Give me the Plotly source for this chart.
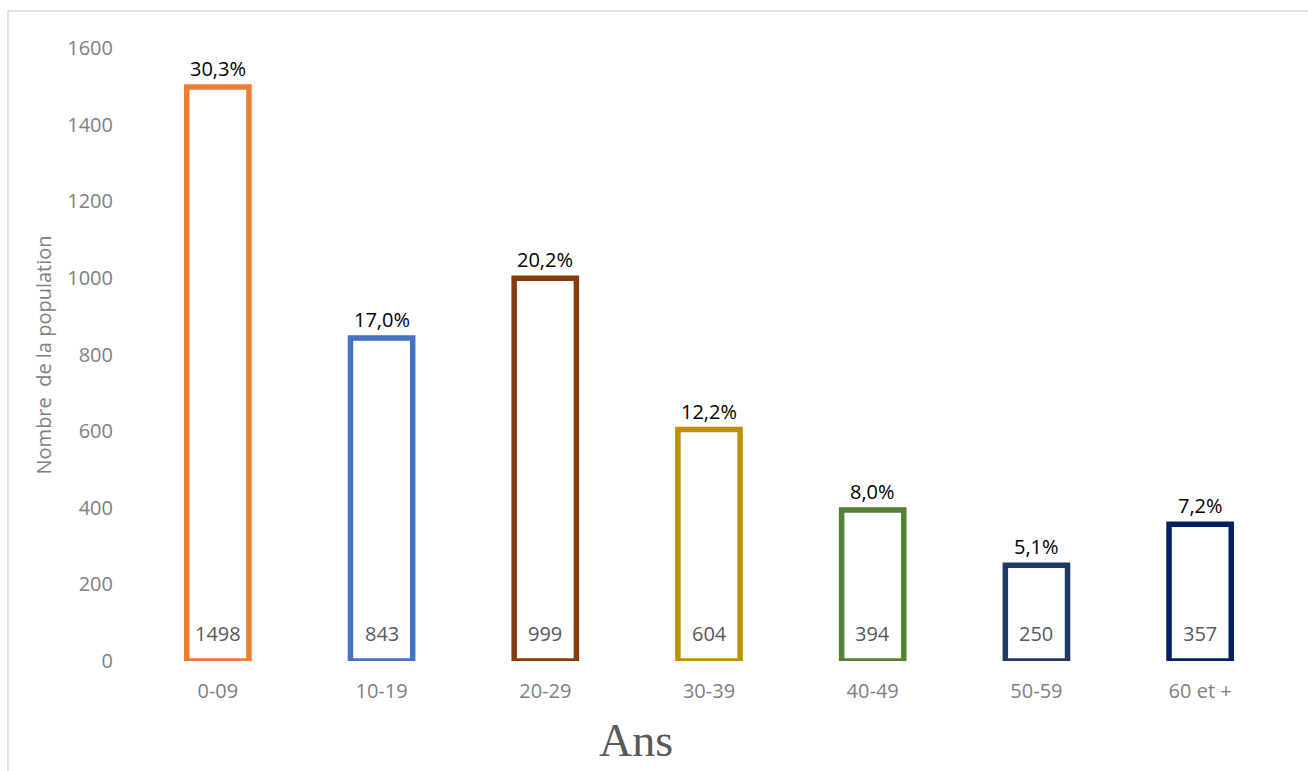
import plotly.graph_objects as go

# Population by age group
age_groups = ["0-09", "10-19", "20-29", "30-39", "40-49", "50-59", "60 et +"]
population = [1498, 843, 999, 604, 394, 250, 357]
shares_pct = [30.3, 17.0, 20.2, 12.2, 8.0, 5.1, 7.2]
outline_colors = ["#ED7D31", "#4472C4", "#843C0C", "#BF9000", "#548235", "#203864", "#002060"]
y_ticks = [0, 200, 400, 600, 800, 1000, 1200, 1400, 1600]

base_family = "Open Sans, Lato, sans-serif"
tick_font = dict(family=base_family, size=20, color="#808080")

fig = go.Figure()
fig.add_trace(go.Bar(
    x=age_groups,
    y=population,
    marker=dict(color="white", line=dict(color=outline_colors, width=5.5)),
    hoverinfo="x+y",
    showlegend=False,
))

annotations = []
for cat, val, pct in zip(age_groups, population, shares_pct):
    # share of the total above each bar
    annotations.append(dict(
        x=cat, y=val, xref="x", yref="y",
        text=f"{pct:.1f}%".replace(".", ","),
        showarrow=False, yanchor="bottom", yshift=3,
        font=dict(family=base_family, size=20, color="#000000"),
    ))
    # head count at the foot of each bar
    annotations.append(dict(
        x=cat, y=0, xref="x", yref="y",
        text=str(val),
        showarrow=False, yanchor="bottom", yshift=12,
        font=dict(family=base_family, size=20, color="#595959"),
    ))

# axis titles
annotations.append(dict(
    x=-0.0803, y=0.50, xref="paper", yref="paper",
    text="Nombre  de la population", textangle=-90,
    showarrow=False, xanchor="center", yanchor="middle",
    font=dict(family=base_family, size=20, color="#808080"),
))
annotations.append(dict(
    x=0.436, y=-0.129, xref="paper", yref="paper",
    text="Ans", showarrow=False, xanchor="center", yanchor="middle",
    font=dict(family="Liberation Serif, Times New Roman, serif", size=46, color="#595959"),
))

fig.update_layout(
    width=1308, height=771,
    margin=dict(l=136, r=26, t=48, b=110),
    paper_bgcolor="white", plot_bgcolor="white",
    bargap=0.62,
    annotations=annotations,
    shapes=[dict(
        type="rect", xref="paper", yref="paper",
        x0=-0.1117, x1=1.06, y0=-0.25, y1=1.0604,
        line=dict(color="#D9D9D9", width=1.5), fillcolor="rgba(0,0,0,0)", layer="below",
    )],
    xaxis=dict(
        showgrid=False, showline=False, zeroline=False,
        tickfont=tick_font, ticks="", ticklabelstandoff=16,
        range=[-0.5, 6.5],
    ),
    yaxis=dict(
        range=[0, 1600], tickvals=y_ticks,
        showgrid=False, showline=False, zeroline=False,
        tickfont=tick_font, ticks="", ticklabelstandoff=22,
    ),
)

fig.write_html("out.html")
